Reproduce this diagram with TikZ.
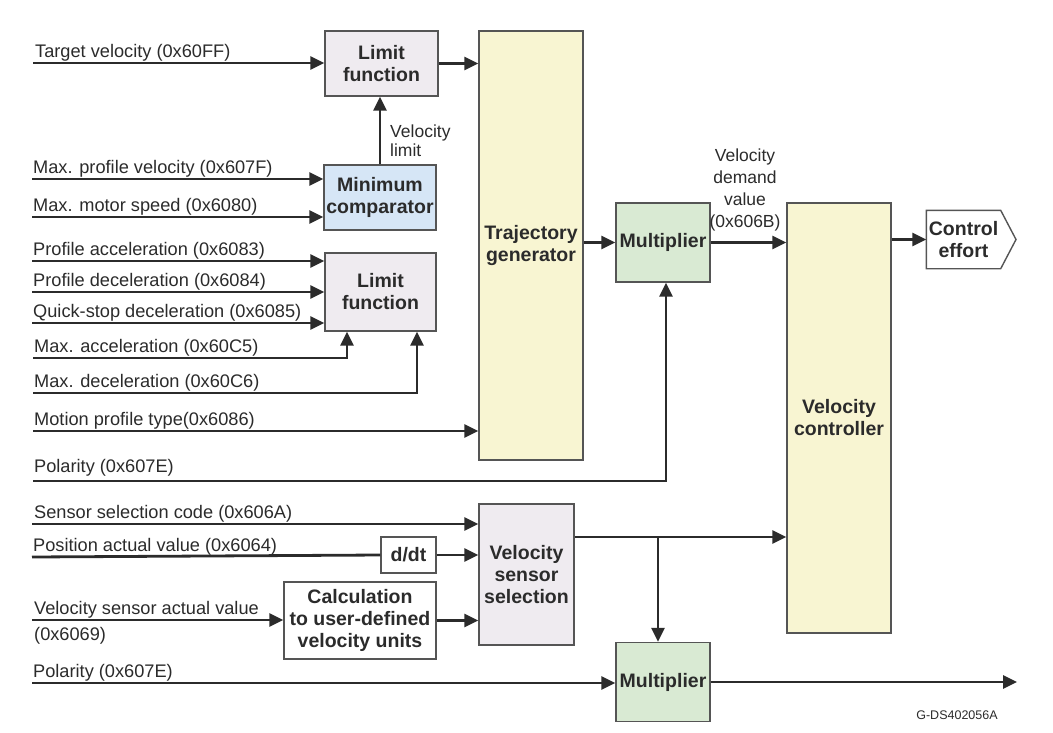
\documentclass[tikz,border=0pt]{standalone}
\usepackage{fontspec}
\setmainfont{Liberation Sans}
\usetikzlibrary{positioning,arrows.meta}
\definecolor{limitfill}{RGB}{239,235,240}
\definecolor{minfill}{RGB}{214,230,246}
\definecolor{trajfill}{RGB}{248,245,210}
\definecolor{multfill}{RGB}{217,234,211}
\definecolor{wirecol}{RGB}{43,43,43}
\definecolor{edgecol}{RGB}{85,85,85}
\newcommand\sigfont{\fontsize{18.2}{22}\selectfont}
\newcommand\blockfont{\fontsize{19.5}{22}\selectfont\bfseries}

\begin{document}
\begin{tikzpicture}[x=1pt, y=-1pt, font=\sigfont, text=wirecol,
   block/.style={draw=edgecol, line width=1.4pt, align=center, inner sep=0pt, font=\blockfont},
   limitblk/.style={block, fill=limitfill},
   minblk/.style={block, fill=minfill},
   trajblk/.style={block, fill=trajfill},
   multblk/.style={block, fill=multfill, minimum width=94pt, minimum height=79pt},
   plainblk/.style={block, fill=white},
   sig/.style={anchor=base west, inner sep=0pt},
   wire/.style={draw=wirecol, line width=2.8pt},
   arr/.style={wire, -{Triangle[length=14pt,width=13pt]}}]
  \useasboundingbox (0,0) rectangle (1053,732);

  % blocks
  \node[limitblk, minimum width=113pt, minimum height=65pt] (lim1) at (381.5,63.5) {Limit\\function};
  \node[minblk, minimum width=112pt, minimum height=65pt] (minc) at (380,197.5) {Minimum\\comparator};
  \node[limitblk, minimum width=111pt, minimum height=78pt] (lim2) at (380.5,292) {Limit\\function};
  \node[trajblk, minimum width=104pt, minimum height=429pt] (traj) at (531,245.5) {Trajectory\\generator};
  \node[multblk] (mult1) at (663,242.5) {Multiplier};
  \node[trajblk, minimum width=104pt, minimum height=430pt] (vctrl) at (839,418) {Velocity\\controller};
  \node[block, draw=none, minimum width=73pt, minimum height=57pt] (ctrl) at (963.5,239.5) {Control\\effort};
  \draw[draw=edgecol, line width=1.4pt] (ctrl.north west) -- (ctrl.north east) -- (1016,239.5)
     -- (ctrl.south east) -- (ctrl.south west) -- cycle;
  \node[limitblk, minimum width=95pt, minimum height=141pt] (vsel) at (526.5,574.5) {Velocity\\sensor\\selection};
  \node[plainblk, minimum width=55pt, minimum height=36pt] (ddt) at (408.5,555) {d/dt};
  \node[plainblk, minimum width=152pt, minimum height=77pt] (calc) at (360,620.5) {Calculation\\to user-defined\\velocity units};
  \node[multblk] (mult2) at (663,682) {Multiplier};

  % input signals
  \coordinate (tv) at (33,63);
  \node[sig] (tvl) at (35,57) {Target velocity (0x60FF)};
  \coordinate (mpv) at (32,179);
  \node[sig] (mpvl) at (33,173) {Max. profile velocity (0x607F)};
  \coordinate (mms) at (32,217);
  \node[sig] (mmsl) at (33,211) {Max. motor speed (0x6080)};
  \coordinate (pacc) at (32,261);
  \node[sig] (paccl) at (33,255) {Profile acceleration (0x6083)};
  \coordinate (pdec) at (32,292);
  \node[sig] (pdecl) at (33,286) {Profile deceleration (0x6084)};
  \coordinate (qdec) at (32,323);
  \node[sig] (qdecl) at (33,317) {Quick-stop deceleration (0x6085)};
  \coordinate (macc) at (33,358);
  \node[sig] (maccl) at (34,352) {Max. acceleration (0x60C5)};
  \coordinate (mdec) at (33,393);
  \node[sig] (mdecl) at (34,387) {Max. deceleration (0x60C6)};
  \coordinate (mpt) at (33,431);
  \node[sig] (mptl) at (34,425) {Motion profile type(0x6086)};
  \coordinate (pol1) at (33,481);
  \node[sig] (pol1l) at (34,472) {Polarity (0x607E)};
  \coordinate (ssc) at (32,524);
  \node[sig] (sscl) at (34,518) {Sensor selection code (0x606A)};
  \coordinate (pav) at (32,557);
  \node[sig] (pavl) at (33,551) {Position actual value (0x6064)};
  \coordinate (vsa) at (32,620);
  \node[sig] (vsal) at (34,614) {Velocity sensor actual value};
  \node[sig] (vsal2) at (34,640) {(0x6069)};
  \coordinate (pol2) at (32,683);
  \node[sig] (pol2l) at (33,677) {Polarity (0x607E)};

  \draw[arr] (tv) -- (tv -| lim1.west);
  \draw[arr] (mpv) -- (mpv -| minc.west);
  \draw[arr] (mms) -- (mms -| minc.west);
  \draw[arr] (pacc) -- (pacc -| lim2.west);
  \draw[arr] (pdec) -- (pdec -| lim2.west);
  \draw[arr] (qdec) -- (qdec -| lim2.west);
  \draw[arr] (macc) -| ([xshift=-33.5pt]lim2.south);
  \draw[arr] (mdec) -| ([xshift=36.5pt]lim2.south);
  \draw[arr] (mpt) -- (mpt -| traj.west);
  \draw[arr] (pol1) -| ([xshift=3pt]mult1.south);
  \draw[arr] (ssc) -- (ssc -| vsel.west);
  \draw[wire] (pav) -- (ddt.west);
  \draw[arr] (vsa) -- (vsa -| calc.west);
  \draw[arr] (pol2) -- (pol2 -| mult2.west);

  % internal connections
  \draw[arr] (minc.north) -- (minc.north |- lim1.south);
  \node[anchor=north west, inner sep=0pt, align=left, font=\fontsize{17.5}{19}\selectfont] (vlim) at (390,125) {Velocity\\limit};
  \draw[arr] (lim1.east) -- (lim1.east -| traj.west);
  \draw[arr] (mult1.west -| traj.east) -- (mult1.west);
  \draw[arr] (mult1.east) -- (mult1.east -| vctrl.west);
  \node[anchor=north, inner sep=0pt, align=center, font=\fontsize{17.5}{22}\selectfont] (vdem) at (745,149) {Velocity\\demand\\value\\(0x606B)};
  \draw[arr] (ctrl.west -| vctrl.east) -- (ctrl.west);
  \draw[arr] (ddt.east) -- (ddt.east -| vsel.west);
  \draw[arr] (calc.east) -- (calc.east -| vsel.west);
  \coordinate (tap) at (658,537);
  \draw[arr] (tap -| vsel.east) -- (tap -| vctrl.west);
  \draw[arr] (tap) -- (tap |- mult2.north);
  \coordinate (out) at (1017,683);
  \draw[arr] (mult2.east) -- (mult2.east -| out);

  \node[font=\fontsize{12.5}{14}\selectfont, inner sep=0pt] (code) at (957,715) {G-DS402056A};
\end{tikzpicture}
\end{document}
